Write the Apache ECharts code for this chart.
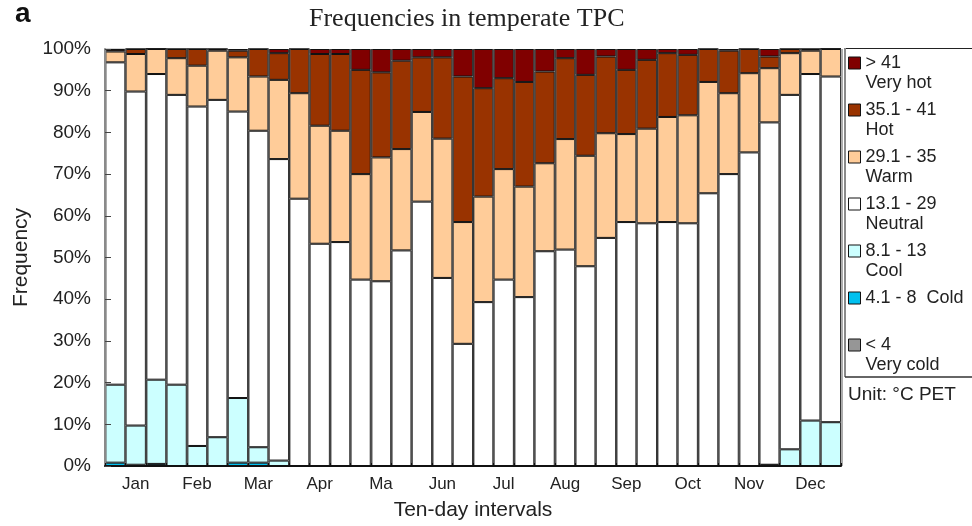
<!DOCTYPE html>
<html>
<head>
<meta charset="utf-8">
<script src="https://cdn.jsdelivr.net/npm/echarts@6/dist/echarts.min.js"></script>
<style>
  html, body { margin: 0; padding: 0; background: #ffffff; }
  #chart { width: 972px; height: 526px; }
</style>
</head>
<body>
<div id="chart"></div>
<script>
// Ten-day intervals: three per month
const months = ['Jan', 'Feb', 'Mar', 'Apr', 'Ma', 'Jun', 'Jul', 'Aug', 'Sep', 'Oct', 'Nov', 'Dec'];
const dekads = ['1', '2', '3'];
const categories = months.flatMap(m => dekads.map(d => m + '-' + d));

// Y-axis ticks (percent)
const yTicks = { min: 0, max: 100, step: 10 };

// Frequencies (%) of each PET class per ten-day interval
const veryCold = [0, 0, 0, 0, 0, 0, 0, 0, 0, 0, 0, 0, 0, 0, 0, 0, 0, 0,
                  0, 0, 0, 0, 0, 0, 0, 0, 0, 0, 0, 0, 0, 0, 0, 0, 0, 0];
const cold     = [0.8, 0.3, 0.5, 0, 0, 0, 0.8, 0.8, 0, 0, 0, 0, 0, 0, 0, 0, 0, 0,
                  0, 0, 0, 0, 0, 0, 0, 0, 0, 0, 0, 0, 0, 0, 0.3, 0, 0, 0];
const cool     = [18.7, 9.4, 20.2, 19.5, 4.8, 6.9, 15.5, 3.7, 1.3, 0, 0, 0, 0, 0, 0, 0, 0, 0,
                  0, 0, 0, 0, 0, 0, 0, 0, 0, 0, 0, 0, 0, 0, 0, 4.0, 10.9, 10.5];
const neutral  = [77.3, 80.1, 73.3, 69.5, 81.4, 80.9, 68.7, 75.9, 72.3, 64.1, 53.3, 53.7,
                  44.7, 44.3, 51.7, 63.4, 45.1, 29.3, 39.3, 44.7, 40.5, 51.5, 51.9, 47.9,
                  54.7, 58.5, 58.2, 58.5, 58.2, 65.4, 70.0, 75.2, 82.1, 85.0, 83.1, 82.9];
const warm     = [2.6, 9.0, 6.0, 8.8, 9.8, 11.8, 13.0, 13.0, 19.0, 25.3, 28.3, 26.7,
                  25.3, 29.7, 24.3, 21.5, 33.4, 29.2, 25.3, 26.5, 26.5, 21.1, 26.5, 26.5,
                  25.1, 21.1, 22.7, 25.2, 25.9, 26.7, 19.4, 19.0, 13.0, 10.0, 5.6, 6.6];
const hot      = [0.4, 1.2, 0, 2.2, 4.0, 0.4, 1.6, 6.6, 6.4, 10.6, 17.2, 18.4,
                  25.0, 20.4, 21.2, 13.1, 19.5, 34.9, 26.0, 21.8, 25.1, 22.0, 19.4, 19.4,
                  18.4, 15.4, 16.5, 15.3, 14.5, 7.9, 10.2, 5.8, 2.8, 1.0, 0.4, 0];
const veryHot  = [0.2, 0, 0, 0, 0, 0, 0.4, 0, 1.0, 0, 1.2, 1.2,
                  5.0, 5.6, 2.8, 2.0, 2.0, 6.6, 9.4, 7.0, 7.9, 5.4, 2.2, 6.2,
                  1.8, 5.0, 2.6, 1.0, 1.4, 0, 0.4, 0, 1.8, 0, 0, 0];

// Classes from the bottom of the stack to the top
const classNames  = ['Very cold', 'Cold', 'Cool', 'Neutral', 'Warm', 'Hot', 'Very hot'];
const classRanges = [['< 4', 'Very cold'], ['4.1 - 8  Cold', ' '], ['8.1 - 13', 'Cool'], ['13.1 - 29', 'Neutral'],
                     ['29.1 - 35', 'Warm'], ['35.1 - 41', 'Hot'], ['> 41', 'Very hot']];
const classValues = [veryCold, cold, cool, neutral, warm, hot, veryHot];
const classColors = ['#969696', '#00c0ef', '#ccffff', '#ffffff', '#ffcc99', '#993300', '#800000'];

const SANS = '"Liberation Sans", Arial, sans-serif';
const SERIF = '"Liberation Serif", "Times New Roman", serif';
const TEXT = '#222222';

const chart = echarts.init(document.getElementById('chart'), null, { renderer: 'canvas' });

const series = classNames.map((name, i) => ({
  name: name,
  type: 'bar',
  stack: 'freq',
  barCategoryGap: '0%',
  data: classValues[i],
  itemStyle: { color: classColors[i], borderColor: '#111111', borderWidth: 1 },
  emphasis: { disabled: true }
}));

// Legend entry: blank spacer line, range, class name -> range line sits level with the swatch
const legendText = {};
classNames.forEach((n, i) => { legendText[n] = ' \n' + classRanges[i][0] + '\n' + classRanges[i][1]; });

chart.setOption({
  animation: false,
  backgroundColor: '#ffffff',
  title: [
    {
      text: 'a', left: 15, top: 0, padding: 0,
      textStyle: { fontFamily: SANS, fontSize: 28, fontWeight: 'bold', color: '#111' }
    },
    {
      text: 'Frequencies in temperate TPC', left: 309, top: 6, padding: 0,
      textStyle: { fontFamily: SERIF, fontSize: 26, fontWeight: 'normal', color: TEXT }
    }
  ],
  grid: { left: 105, right: 131, top: 49, bottom: 60 },
  legend: {
    orient: 'vertical',
    left: 848, top: 33, padding: 0,
    itemWidth: 12, itemHeight: 12, itemGap: -13,
    icon: 'rect',
    selectedMode: false,
    data: classNames.slice().reverse(),
    formatter: name => legendText[name],
    itemStyle: { borderColor: '#111111', borderWidth: 1 },
    textStyle: { fontFamily: SANS, fontSize: 18, lineHeight: 20, color: TEXT }
  },
  xAxis: {
    type: 'category',
    data: categories,
    z: 3,
    name: 'Ten-day intervals',
    nameLocation: 'middle',
    nameGap: 34,
    nameTextStyle: { fontFamily: SANS, fontSize: 21, color: TEXT },
    axisLine: { lineStyle: { color: '#111111', width: 2 } },
    axisTick: { show: true, inside: true, length: 3, interval: 0, lineStyle: { color: '#111111' } },
    axisLabel: {
      interval: i => i % 3 === 1,
      formatter: v => v.split('-')[0],
      fontFamily: SANS, fontSize: 17, color: TEXT, margin: 10
    },
    splitLine: { show: true, interval: 0, lineStyle: { color: 'rgba(90,90,90,0.5)', width: 3 } }
  },
  yAxis: {
    type: 'value',
    z: 3,
    min: yTicks.min, max: yTicks.max, interval: yTicks.step,
    name: 'Frequency',
    nameLocation: 'middle',
    nameGap: 72,
    nameTextStyle: { fontFamily: SANS, fontSize: 21, color: TEXT },
    axisLine: { show: true, lineStyle: { color: '#8a8a8a', width: 2 } },
    axisTick: { show: true, inside: true, length: 6, lineStyle: { color: '#444444' } },
    axisLabel: { formatter: '{value}%', fontFamily: SANS, fontSize: 19, color: TEXT, margin: 14 },
    splitLine: { show: false }
  },
  graphic: [
    { type: 'line', shape: { x1: 845, y1: 48.5, x2: 972, y2: 48.5 }, style: { stroke: '#222', lineWidth: 1 } },
    { type: 'line', shape: { x1: 845, y1: 48, x2: 845, y2: 377 }, style: { stroke: '#8a8a8a', lineWidth: 2 } },
    { type: 'line', shape: { x1: 845, y1: 377, x2: 972, y2: 377 }, style: { stroke: '#333', lineWidth: 1.5 } },
    {
      type: 'text', x: 848, y: 395,
      style: { text: 'Unit: °C PET', fontFamily: SANS, fontSize: 19, fill: TEXT, verticalAlign: 'middle' }
    }
  ],
  series: series
});
</script>
</body>
</html>
